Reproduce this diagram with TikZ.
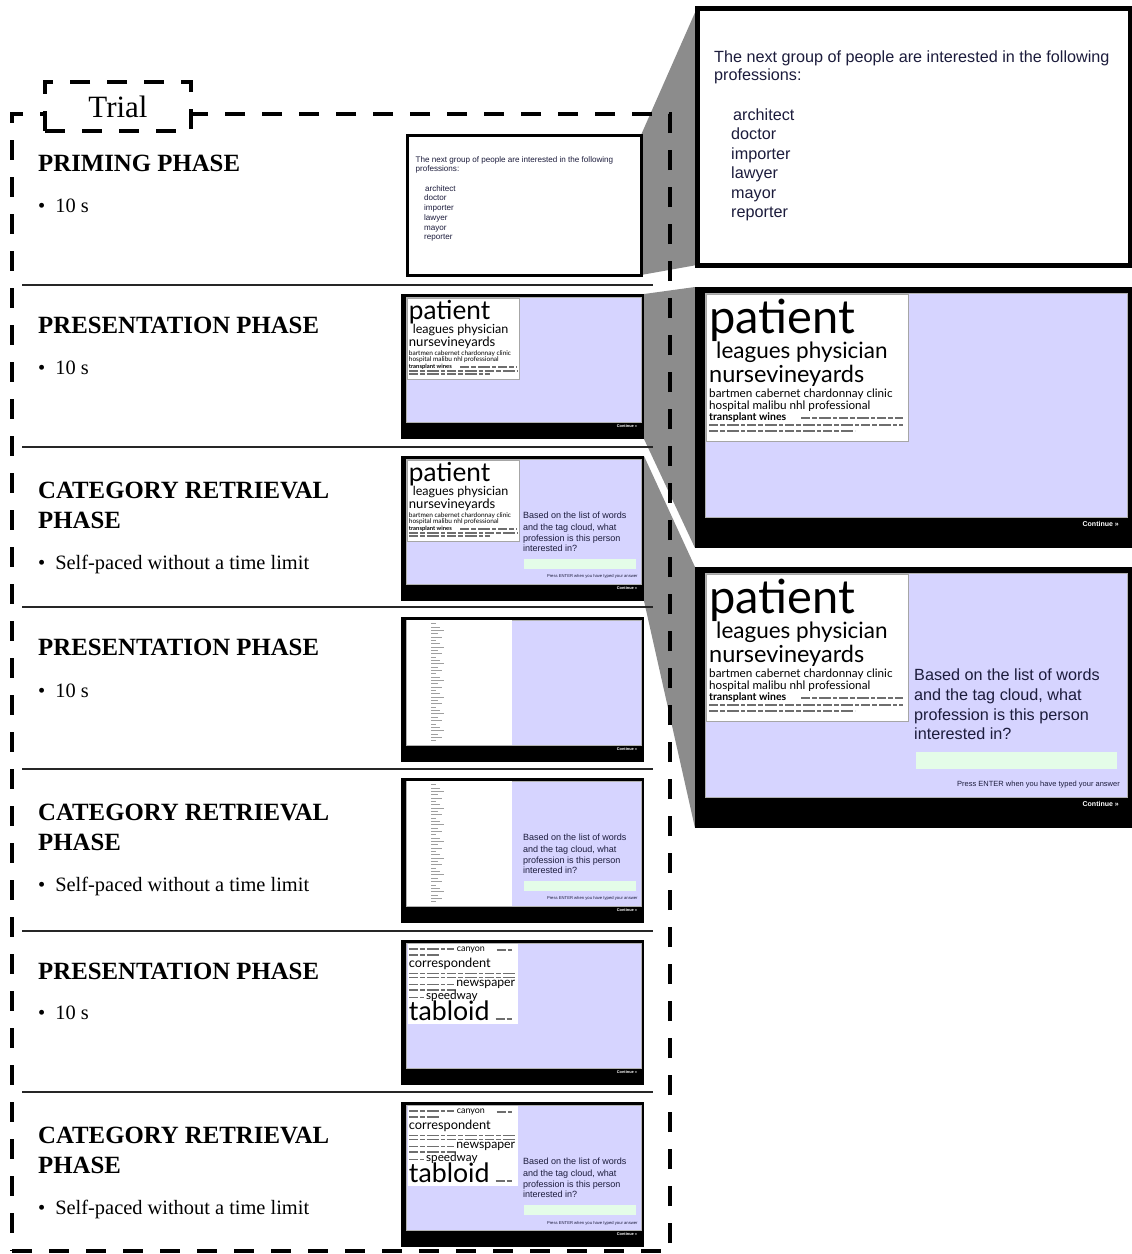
\documentclass[tikz,border=0pt]{standalone}
\usepackage{fontspec}
\setmainfont{Liberation Serif}
\newfontfamily\arialf{Liberation Sans}
\newfontfamily\gillf{Lato}
\usetikzlibrary{backgrounds}
\newcommand{\fsz}[2]{\fontsize{#1}{#2}\selectfont}
\definecolor{lav}{RGB}{214,212,255}
\definecolor{mint}{RGB}{228,252,232}
\definecolor{wedgegray}{RGB}{140,140,140}
\definecolor{qtext}{RGB}{28,28,60}
\definecolor{tinygray}{RGB}{110,110,110}

\newcommand{\rsScreen}{%
  \filldraw[fill=lav, draw=gray!60, line width=0.6pt] (10,6) rectangle (432,230);
  \node[anchor=base east, inner sep=0, text=white, font=\arialf\bfseries\fsz{7}{8}] at (424,239) {Continue »};
}
\newcommand{\rsPatient}{%
  \filldraw[fill=white, draw=gray!70, line width=0.8pt] (11,7) rectangle (213,154);
  \node[cloudw, font=\gillf\fsz{47}{47}] at (14,46) {patient};
  \node[cloudw, font=\gillf\fsz{22.5}{23}] at (21,71) {leagues physician};
  \node[cloudw, font=\gillf\fsz{23.5}{24}] at (14,95) {nursevineyards};
  \node[cloudw, font=\gillf\fsz{11.7}{12}] at (14,110) {bartmen cabernet chardonnay clinic};
  \node[cloudw, font=\gillf\fsz{11.7}{12}] at (14,122) {hospital malibu nhl professional};
  \node[cloudw, font=\gillf\bfseries\fsz{10.5}{11}] at (14,133) {transplant wines};
  \draw[tinyline] (106,131) -- (208,131);
  \draw[tinyline] (14,138) -- (208,138);
  \draw[tinyline] (14,144) -- (160,144);
}
\newcommand{\rsQuestion}{%
  \node[qline] at (219,113) {Based on the list of words};
  \node[qline] at (219,133) {and the tag cloud, what};
  \node[qline] at (219,153) {profession is this person};
  \node[qline] at (219,172) {interested in?};
  \fill[mint] (221,185) rectangle (422,202);
  \node[anchor=base east, inner sep=0, text=qtext, font=\arialf\fsz{7.5}{8}] at (425,219) {Press ENTER when you have typed your answer};
}
\newcommand{\rsPriming}{%
  \node[pline] at (17,54) {The next group of people are interested in the following};
  \node[pline] at (17,72) {professions:};
  \node[pline] at (36,112) {architect};
  \node[pline] at (34,131) {doctor};
  \node[pline] at (34,151) {importer};
  \node[pline] at (34,170) {lawyer};
  \node[pline] at (34,190) {mayor};
  \node[pline] at (34,209) {reporter};
}
\newcommand{\rsWordlist}{%
  \fill[white] (11,6) rectangle (199,230);
  \foreach \i in {0,...,35}{%
    \pgfmathsetmacro{\len}{8+mod(\i*7,5)*4}
    \draw[gray!75, line width=0.9pt] (54,{12+\i*6}) -- ({54+\len},{12+\i*6});
  }
}
\newcommand{\rsTabloid}{%
  \fill[white] (12,7) rectangle (210,150);
  \draw[tinyline] (14,16) -- (95,16);
  \node[cloudw, font=\gillf\fsz{16}{16}] at (100,21) {canyon};
  \draw[tinyline] (172,18) -- (200,18);
  \draw[tinyline] (14,27) -- (70,27);
  \node[cloudw, font=\gillf\fsz{23}{23}] at (14,50) {correspondent};
  \draw[tinyline] (14,60) -- (205,60);
  \draw[tinyline] (14,67) -- (205,67);
  \draw[tinyline] (14,80) -- (96,80);
  \node[cloudw, font=\gillf\fsz{22}{22}] at (99,84) {newspaper};
  \draw[tinyline] (14,90) -- (100,90);
  \draw[tinyline] (14,103) -- (42,103);
  \node[cloudw, font=\gillf\fsz{21}{21}] at (45,106) {speedway};
  \node[cloudw, font=\gillf\fsz{48}{48}] at (14,145) {tabloid};
  \draw[tinyline] (170,142) -- (200,142);
}

\begin{document}
\begin{tikzpicture}[x=1pt,y=-1pt,
  cloudw/.style={anchor=base west, inner sep=0, text=black},
  tinyline/.style={tinygray, line width=1.6pt, dash pattern=on 9pt off 2pt on 5pt off 2pt on 12pt off 2pt on 4pt off 2pt},
  qline/.style={anchor=base west, inner sep=0, text=qtext, font=\arialf\fsz{16.2}{18}},
  pline/.style={anchor=base west, inner sep=0, text=qtext, font=\arialf\fsz{16.2}{18}},
  bigw/.style={anchor=north west, draw=black, fill=white, line width=5pt, minimum width=433, minimum height=257, inner sep=0, outer sep=0},
  scr/.style={anchor=north west, fill=black, minimum width=437, minimum height=261, inner sep=0, outer sep=0},
  thumbw/.style={anchor=north west, draw=black, fill=white, line width=3pt, minimum width=234, minimum height=140, inner sep=0, outer sep=0},
  thmb/.style={anchor=north west, fill=black, minimum width=243, minimum height=145, inner sep=0, outer sep=0},
  dashbox/.style={draw=black, line width=4pt, dash pattern=on 20pt off 17pt, inner sep=0, outer sep=0},
  sepline/.style={black!85, line width=1.5pt},
  ttl/.style={anchor=base west, inner sep=0, font=\bfseries\fsz{24.8}{28}},
  bul/.style={anchor=base west, inner sep=0, font=\fsz{20.4}{24}},
  wedge/.style={fill=wedgegray}]
\useasboundingbox (0,0) rectangle (1132,1254);

% enlarged screens
\node[bigw] (bA) at (697,8) {};
\node[scr] (bB) at (695,287) {};
\node[scr] (bC) at (695,567) {};

% thumbnails
\node[thumbw] (t1) at (407,135) {};
\node[thmb] (t2) at (401,294) {};
\node[thmb] (t3) at (401,456) {};
\node[thmb] (t4) at (401,617) {};
\node[thmb] (t5) at (401,778) {};
\node[thmb] (t6) at (401,940) {};
\node[thmb] (t7) at (401,1102) {};

% zoom wedges
\begin{scope}[on background layer]
  \fill[wedge] (t1.north east) -- (bA.north west) -- (bA.south west) -- (t1.south east) -- cycle;
  \fill[wedge] (t2.north east) -- (bB.north west) -- (bB.south west) -- (t2.south east) -- cycle;
  \fill[wedge] (t3.north east) -- (bC.north west) -- (bC.south west) -- (t3.south east) -- cycle;
\end{scope}

% screen contents
\begin{scope}[shift={(bA.north west)}] \rsPriming \end{scope}
\begin{scope}[shift={(bB.north west)}] \rsScreen \rsPatient \end{scope}
\begin{scope}[shift={(bC.north west)}] \rsScreen \rsPatient \rsQuestion \end{scope}
\begin{scope}[shift={(t1.north west)}, scale=0.5, transform shape] \rsPriming \end{scope}
\begin{scope}[shift={(t2.north west)}, scale=0.557, transform shape] \rsScreen \rsPatient \end{scope}
\begin{scope}[shift={(t3.north west)}, scale=0.557, transform shape] \rsScreen \rsPatient \rsQuestion \end{scope}
\begin{scope}[shift={(t4.north west)}, scale=0.557, transform shape] \rsScreen \rsWordlist \end{scope}
\begin{scope}[shift={(t5.north west)}, scale=0.557, transform shape] \rsScreen \rsWordlist \rsQuestion \end{scope}
\begin{scope}[shift={(t6.north west)}, scale=0.557, transform shape] \rsScreen \rsTabloid \end{scope}
\begin{scope}[shift={(t7.north west)}, scale=0.557, transform shape] \rsScreen \rsTabloid \rsQuestion \end{scope}

% trial frame
\node[dashbox, anchor=north west, minimum width=658, minimum height=1137] (frame) at (12,114) {};
\node[dashbox, fill=white, minimum width=146, minimum height=49, font=\fsz{31}{31}] (trial) at (118,106.5) {Trial};

% separators
\foreach \yy in {285,447,607,769,931,1092}{\draw[sepline] (22,\yy) -- (653,\yy);}

% phase texts
\node[ttl] (p1) at (38,171) {PRIMING PHASE};
\node[bul] (d1) at (38,212) {\textbullet\hspace{10pt}10 s};
\node[ttl] (p2) at (38,333) {PRESENTATION PHASE};
\node[bul] (d2) at (38,374) {\textbullet\hspace{10pt}10 s};
\node[ttl] (p3) at (38,498) {CATEGORY RETRIEVAL};
\node[ttl] (p3b) at (38,528) {PHASE};
\node[bul] (d3) at (38,569) {\textbullet\hspace{10pt}Self-paced without a time limit};
\node[ttl] (p4) at (38,655) {PRESENTATION PHASE};
\node[bul] (d4) at (38,697) {\textbullet\hspace{10pt}10 s};
\node[ttl] (p5) at (38,820) {CATEGORY RETRIEVAL};
\node[ttl] (p5b) at (38,850) {PHASE};
\node[bul] (d5) at (38,891) {\textbullet\hspace{10pt}Self-paced without a time limit};
\node[ttl] (p6) at (38,979) {PRESENTATION PHASE};
\node[bul] (d6) at (38,1019) {\textbullet\hspace{10pt}10 s};
\node[ttl] (p7) at (38,1143) {CATEGORY RETRIEVAL};
\node[ttl] (p7b) at (38,1173) {PHASE};
\node[bul] (d7) at (38,1214) {\textbullet\hspace{10pt}Self-paced without a time limit};
\end{tikzpicture}
\end{document}
